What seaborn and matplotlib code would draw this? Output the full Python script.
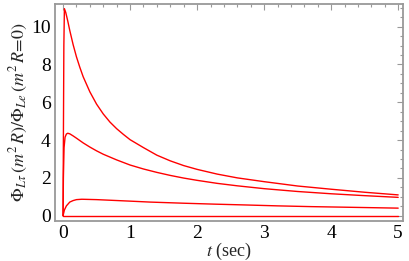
import numpy as np
import pandas as pd
import matplotlib
matplotlib.use("Agg")
import matplotlib.pyplot as plt
import seaborn as sns
from matplotlib.ticker import MultipleLocator

# values
t_top = [0.0, 0.005, 0.012, 0.02, 0.04, 0.07, 0.1, 0.15, 0.2, 0.25, 0.3, 0.4, 0.5, 0.6, 0.7, 0.8, 0.9, 1.0,
         1.2, 1.4, 1.6, 1.8, 2.0, 2.3, 2.6, 3.0, 3.5, 4.0, 4.5, 5.0]
y_top = [0.0, 4.0, 9.0, 10.95, 10.75, 10.3, 9.8, 9.05, 8.4, 7.85, 7.35, 6.55, 5.9, 5.38, 4.95, 4.6, 4.3, 4.02,
         3.6, 3.2, 2.9, 2.65, 2.45, 2.2, 2.0, 1.8, 1.57, 1.4, 1.24, 1.1]

t_mid = [0.0, 0.005, 0.015, 0.03, 0.05, 0.07, 0.1, 0.15, 0.2, 0.3, 0.4, 0.5, 0.6, 0.8, 1.0, 1.2, 1.4, 1.6,
         1.8, 2.0, 2.3, 2.6, 3.0, 3.5, 4.0, 4.5, 5.0]
y_mid = [0.0, 2.0, 3.6, 4.15, 4.32, 4.36, 4.33, 4.22, 4.1, 3.85, 3.63, 3.43, 3.25, 2.95, 2.68, 2.47, 2.29, 2.13,
         1.99, 1.87, 1.71, 1.58, 1.43, 1.28, 1.16, 1.06, 0.97]

t_low = [0.0, 0.02, 0.05, 0.1, 0.15, 0.2, 0.28, 0.5, 1.0, 1.3, 1.8, 2.27, 2.7, 3.2, 3.7, 4.2, 5.0]
y_low = [0.0, 0.3, 0.52, 0.72, 0.8, 0.85, 0.87, 0.85, 0.77, 0.72, 0.66, 0.61, 0.57, 0.52, 0.48, 0.45, 0.40]

t_flat = [0.0, 5.0]
y_flat = [0.0, 0.0]

curves = [(t_top, y_top), (t_mid, y_mid), (t_low, y_low), (t_flat, y_flat)]
df = pd.concat([pd.DataFrame({"t": t, "phi": y, "curve": i}) for i, (t, y) in enumerate(curves)])

sns.set_style("white")
plt.rcParams["font.family"] = ["Liberation Serif", "DejaVu Serif"]
plt.rcParams["mathtext.fontset"] = "stix"

fig = plt.figure(figsize=(4.09, 2.61), dpi=100)
ax = fig.add_axes([0.1345, 0.154, 0.8505, 0.831])

sns.lineplot(data=df, x="t", y="phi", units="curve", estimator=None, sort=False,
             color="#ff0000", linewidth=1.0, ax=ax)

ax.set_xlim(-0.12, 5.07)
ax.set_ylim(-0.27, 11.2)
ax.xaxis.set_major_locator(MultipleLocator(1))
ax.xaxis.set_minor_locator(MultipleLocator(0.2))
ax.yaxis.set_major_locator(MultipleLocator(2))
ax.yaxis.set_minor_locator(MultipleLocator(0.5))

frame = "#999999"
for s in ax.spines.values():
    s.set_color(frame)
    s.set_linewidth(1.3)
ax.tick_params(which="both", direction="in", top=True, right=True, color=frame,
               labelsize=14, labelcolor="black", width=0.8)
ax.tick_params(which="major", length=4)
ax.tick_params(which="minor", length=2)
ax.tick_params(axis="x", pad=3)
ax.tick_params(axis="y", pad=3)

ax.set_xlabel(r"$t$ (sec)", fontsize=13, labelpad=-1)
ax.set_ylabel(r"$\Phi_{L\tau}\,(m^2\,R)/\Phi_{Le}\,(m^2\,R\!=\!0)$", fontsize=13, labelpad=1)

fig.savefig("out.png", dpi=100)
